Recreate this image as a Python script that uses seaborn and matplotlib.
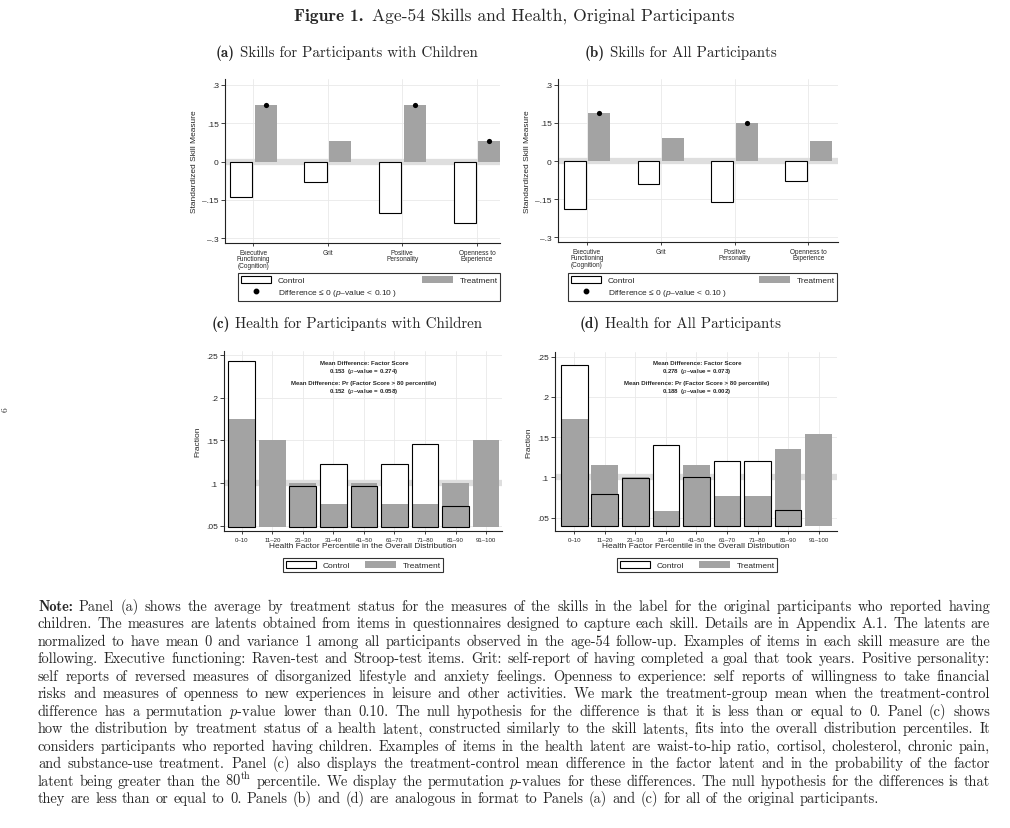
import numpy as np
import pandas as pd
import matplotlib
matplotlib.use("Agg")
import matplotlib.pyplot as plt
import seaborn as sns
from matplotlib.patches import Patch
from matplotlib.lines import Line2D

# ---------------- data ----------------
skills = ["Executive\nFunctioning\n(Cognition)", "Grit", "Positive\nPersonality", "Openness to\nExperience"]
a_control = [-0.14, -0.08, -0.20, -0.24]
a_treatment = [0.22, 0.08, 0.22, 0.08]
a_signif = [True, False, True, True]
b_control = [-0.19, -0.09, -0.16, -0.08]
b_treatment = [0.19, 0.09, 0.15, 0.08]
b_signif = [True, False, True, False]
skill_ticks = [-0.3, -0.15, 0.0, 0.15, 0.3]
skill_ticklabels = ["–.3", "–.15", "0", ".15", ".3"]

bins = ["0–10", "11–20", "21–30", "31–40", "41–50", "61–70", "71–80", "81–90", "91–100"]
c_control = [0.243, np.nan, 0.097, 0.122, 0.097, 0.122, 0.146, 0.073, np.nan]
c_treatment = [0.175, 0.150, 0.100, 0.075, 0.100, 0.075, 0.075, 0.100, 0.150]
d_control = [0.240, 0.080, 0.099, 0.140, 0.100, 0.120, 0.120, 0.060, np.nan]
d_treatment = [0.173, 0.116, 0.100, 0.058, 0.116, 0.077, 0.077, 0.135, 0.154]
health_ticks = [0.05, 0.10, 0.15, 0.20, 0.25]
health_ticklabels = [".05", ".1", ".15", ".2", ".25"]
c_notes = ["Mean Difference: Factor Score", "0.153  ($p$–value = 0.274)",
           "Mean Difference: Pr (Factor Score > 80 percentile)", "0.152  ($p$–value = 0.058)"]
d_notes = ["Mean Difference: Factor Score", "0.278  ($p$–value = 0.073)",
           "Mean Difference: Pr (Factor Score > 80 percentile)", "0.188  ($p$–value = 0.002)"]

title_bold = "Figure 1."
title_rest = "Age-54 Skills and Health, Original Participants"
panel_titles = [("(a)", "Skills for Participants with Children"),
                ("(b)", "Skills for All Participants"),
                ("(c)", "Health for Participants with Children"),
                ("(d)", "Health for All Participants")]

note_lines = [
    "Note: Panel (a) shows the average by treatment status for the measures of the skills in the label for the original participants who reported having",
    "children. The measures are latents obtained from items in questionnaires designed to capture each skill. Details are in Appendix A.1. The latents are",
    "normalized to have mean 0 and variance 1 among all participants observed in the age-54 follow-up. Examples of items in each skill measure are the",
    "following. Executive functioning: Raven-test and Stroop-test items. Grit: self-report of having completed a goal that took years. Positive personality:",
    "self reports of reversed measures of disorganized lifestyle and anxiety feelings. Openness to experience: self reports of willingness to take financial",
    "risks and measures of openness to new experiences in leisure and other activities. We mark the treatment-group mean when the treatment-control",
    "difference has a permutation $p$-value lower than 0.10. The null hypothesis for the difference is that it is less than or equal to 0. Panel (c) shows",
    "how the distribution by treatment status of a health latent, constructed similarly to the skill latents, fits into the overall distribution percentiles. It",
    "considers participants who reported having children. Examples of items in the health latent are waist-to-hip ratio, cortisol, cholesterol, chronic pain,",
    "and substance-use treatment. Panel (c) also displays the treatment-control mean difference in the factor latent and in the probability of the factor",
    r"latent being greater than the 80$^{\mathrm{th}}$ percentile. We display the permutation $p$-values for these differences. The null hypothesis for the differences is that",
    "they are less than or equal to 0. Panels (b) and (d) are analogous in format to Panels (a) and (c) for all of the original participants.",
]

# ---------------- style ----------------
sns.set_theme(style="white")
plt.rcParams["font.family"] = ["Liberation Sans", "DejaVu Sans"]
plt.rcParams["mathtext.fontset"] = "custom"
plt.rcParams["mathtext.rm"] = "Liberation Sans"
plt.rcParams["mathtext.it"] = "Liberation Sans:italic"
plt.rcParams["mathtext.bf"] = "Liberation Sans:bold"

GRAY = "#a3a3a3"
BAND = "#dedede"
GRID = "#e9e9e9"
SPINE = "#222222"

W, H = 1010, 829
fig = plt.figure(figsize=(W / 100, H / 100), dpi=100)
fig.patch.set_facecolor("white")
renderer = fig.canvas.get_renderer()


def rect(l, t, r, b):
    return [l / W, 1 - b / H, (r - l) / W, (b - t) / H]


def style_axes(ax):
    for s in ["top", "right"]:
        ax.spines[s].set_visible(False)
    for s in ["left", "bottom"]:
        ax.spines[s].set_color(SPINE)
        ax.spines[s].set_linewidth(0.8)
    ax.tick_params(axis="both", direction="out", length=3, width=0.6, color=SPINE,
                   left=True, bottom=True, pad=1.5)
    ax.grid(True, color=GRID, lw=0.6)
    ax.set_axisbelow(True)


def skill_panel(pos, control, treatment, signif, xlim):
    ax = fig.add_axes(pos)
    df = pd.DataFrame({"skill": skills * 2,
                       "value": list(control) + list(treatment),
                       "group": ["Control"] * len(skills) + ["Treatment"] * len(skills)})
    sns.barplot(data=df, x="skill", y="value", hue="group", order=skills,
                hue_order=["Control", "Treatment"],
                palette={"Control": "white", "Treatment": GRAY},
                width=0.66, gap=0.1, saturation=1, errorbar=None, legend=False,
                linewidth=0, ax=ax, zorder=2)
    for p in ax.patches:
        fc = p.get_facecolor()
        if fc[0] > 0.95:
            p.set_edgecolor("black")
            p.set_linewidth(0.8)
        else:
            p.set_edgecolor("none")
    ax.axhline(0, color=BAND, lw=4.5, zorder=1)
    xs = [i + 0.165 for i, s in enumerate(signif) if s]
    ys = [t for t, s in zip(treatment, signif) if s]
    ax.scatter(xs, ys, s=14, color="black", zorder=5, linewidths=0)
    ax.set_xlim(*xlim)
    ax.set_ylim(-0.318, 0.322)
    ax.set_yticks(skill_ticks)
    ax.set_yticklabels(skill_ticklabels)
    ax.set_xticks(range(len(skills)))
    ax.set_xticklabels(skills, fontsize=4.7, linespacing=0.95)
    ax.tick_params(axis="y", labelsize=6.0)
    ax.set_xlabel("")
    ax.set_ylabel("Standardized Skill Measure", fontsize=6.0, labelpad=3)
    style_axes(ax)
    ax.tick_params(axis="x", length=2.5)
    return ax


def health_panel(pos, control, treatment, base, notes, note_x, note_ys, xlim, ylim):
    ax = fig.add_axes(pos)
    x = np.arange(len(bins))
    ctrl = np.array(control, dtype=float)
    trt = np.array(treatment, dtype=float)
    m = ~np.isnan(ctrl)
    wdt = 0.875
    ax.bar(x[m], ctrl[m] - base, bottom=base, width=wdt, color="white",
           edgecolor="none", zorder=2)
    ax.bar(x, trt - base, bottom=base, width=wdt, color=GRAY, edgecolor="none", zorder=3)
    ax.bar(x[m], ctrl[m] - base, bottom=base, width=wdt, facecolor="none",
           edgecolor="black", linewidth=0.8, zorder=4)
    ax.axhline(0.1, color=BAND, lw=4.5, zorder=1)
    ax.set_xlim(*xlim)
    ax.set_ylim(*ylim)
    ax.set_yticks(health_ticks)
    ax.set_yticklabels(health_ticklabels)
    ax.set_xticks(x)
    ax.set_xticklabels(bins, fontsize=4.4)
    ax.tick_params(axis="y", labelsize=6.0)
    ax.set_ylabel("Fraction", fontsize=6.0, labelpad=3)
    ax.set_xlabel("Health Factor Percentile in the Overall Distribution", fontsize=6.0, labelpad=0.5)
    style_axes(ax)
    ax.tick_params(axis="x", length=2.5)
    for txt, yy in zip(notes, note_ys):
        fig.text(note_x / W, 1 - yy / H, txt, fontsize=4.4, fontweight="bold",
                 ha="center", va="center")
    return ax


ax_a = skill_panel(rect(225, 80, 500, 244), a_control, a_treatment, a_signif, (-0.38, 3.31))
ax_b = skill_panel(rect(558, 80, 838, 243), b_control, b_treatment, b_signif, (-0.39, 3.40))
ax_c = health_panel(rect(224, 352, 502, 532), c_control, c_treatment, 0.049, c_notes, 364,
                    [363.8, 371.8, 383.8, 391.8], (-0.58, 8.52), (0.0438, 0.255))
ax_d = health_panel(rect(555, 353, 837, 532), d_control, d_treatment, 0.040, d_notes, 697,
                    [363.4, 371.4, 383.2, 391.2], (-0.63, 8.6), (0.0335, 0.2558))

# ---------------- legends ----------------
h_ctrl = Patch(facecolor="white", edgecolor="black", linewidth=0.8)
h_trt = Patch(facecolor=GRAY, edgecolor="none")
h_dot = Line2D([], [], marker="o", color="black", linestyle="none", markersize=3.2)
h_blank = Line2D([], [], linestyle="none")


def skill_legend(l, t, r, b):
    leg = fig.legend([h_ctrl, h_dot, h_trt, h_blank],
                     ["Control", "Difference ≤ 0 ($p$–value < 0.10 )", "Treatment", ""],
                     ncol=2, loc="center", mode="expand",
                     bbox_to_anchor=((l) / W, 1 - b / H, (r - l) / W, (b - t) / H),
                     bbox_transform=fig.transFigure, fontsize=6.0, frameon=True,
                     fancybox=False, edgecolor="black", handlelength=3.7, handleheight=0.95,
                     labelspacing=0.35, borderpad=0.3, handletextpad=0.8, borderaxespad=0)
    leg.get_frame().set_linewidth(0.8)
    return leg


def health_legend(l, t, r, b):
    leg = fig.legend([h_ctrl, h_trt], ["Control", "Treatment"], ncol=2, loc="center",
                     mode="expand",
                     bbox_to_anchor=((l) / W, 1 - b / H, (r - l) / W, (b - t) / H),
                     bbox_transform=fig.transFigure, fontsize=6.0, frameon=True,
                     fancybox=False, edgecolor="black", handlelength=3.7, handleheight=0.95,
                     borderpad=0.3, handletextpad=0.8, borderaxespad=0, columnspacing=1.5)
    leg.get_frame().set_linewidth(0.8)
    return leg


skill_legend(238, 274, 500, 302)
skill_legend(568, 274, 837, 302)
health_legend(283, 558, 443, 574)
health_legend(617, 558, 777, 574)


# ---------------- titles ----------------
def two_part_title(cx, cy, bold, rest, fs, gap_em=0.33):
    t1 = fig.text(0, 1 - cy / H, bold, fontsize=fs, family="cmb10", ha="left", va="center")
    t2 = fig.text(0, 1 - cy / H, rest, fontsize=fs, family="cmr10", ha="left", va="center")
    w1 = t1.get_window_extent(renderer).width
    w2 = t2.get_window_extent(renderer).width
    gap = fs * 100 / 72 * gap_em
    x0 = cx - (w1 + gap + w2) / 2
    t1.set_x(x0 / W)
    t2.set_x((x0 + w1 + gap) / W)


two_part_title(514, 17, title_bold, title_rest, 12.6, gap_em=0.5)
for (b, r), (cx, cy) in zip(panel_titles, [(347, 53), (681, 53), (347, 324), (680, 324)]):
    two_part_title(cx, cy, b, r, 10.8)
fig.text(5 / W, 1 - 410 / H, "6", fontsize=7, rotation=90, ha="center", va="center",
         family="cmr10")

# ---------------- note (justified) ----------------
NOTE_FS = 10.4
X0, X1 = 38, 990
for i, line in enumerate(note_lines):
    words = line.split(" ")
    yb = 1 - (611 + i * 17.5) / H
    objs = []
    widths = []
    for w in words:
        fam = "cmb10" if w == "Note:" else "cmr10"
        t = fig.text(0, yb, w, fontsize=NOTE_FS, family=fam, math_fontfamily="cm",
                     ha="left", va="baseline")
        objs.append(t)
        widths.append(t.get_window_extent(renderer).width)
    total = sum(widths)
    if i < len(note_lines) - 1:
        gap = (X1 - X0 - total) / (len(words) - 1)
    else:
        gap = NOTE_FS * 100 / 72 * 0.36
    x = X0
    for t, wd in zip(objs, widths):
        t.set_x(x / W)
        x += wd + gap

fig.savefig("out.png", dpi=100, facecolor="white")
